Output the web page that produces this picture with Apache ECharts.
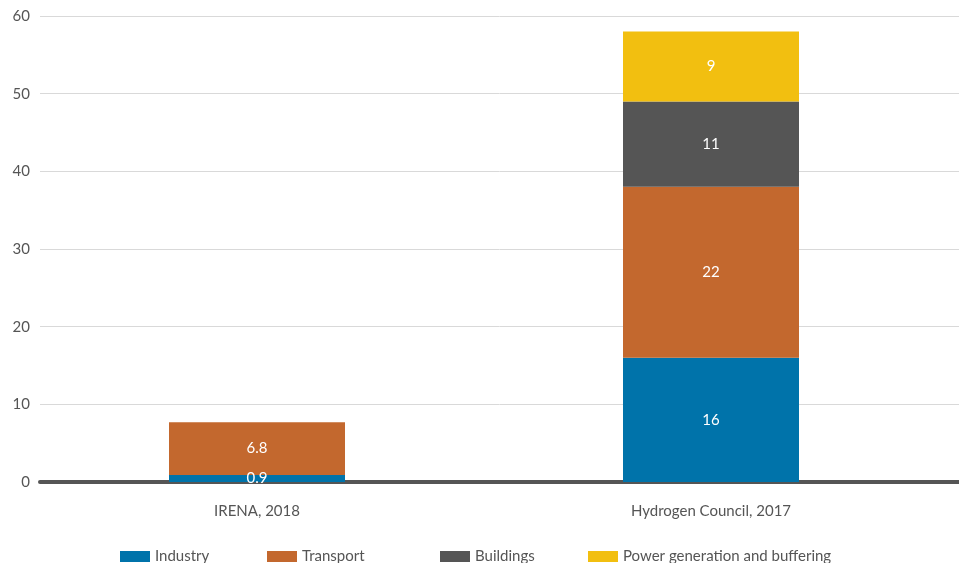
<!DOCTYPE html>
<html>
<head>
<meta charset="utf-8">
<script src="https://cdn.jsdelivr.net/npm/echarts@6/dist/echarts.min.js"></script>
<style>
  html, body { margin: 0; padding: 0; background: #fff; }
  #main { width: 959px; height: 563px; }
</style>
</head>
<body>
<div id="main"></div>
<script>
const categories = ["IRENA, 2018", "Hydrogen Council, 2017"];
const industry = [0.9, 16];
const transport = [6.8, 22];
const buildings = [null, 11];
const power = [null, 9];
const yTicks = [0, 10, 20, 30, 40, 50, 60];

const seriesNames = ["Industry", "Transport", "Buildings", "Power generation and buffering"];
const colors = ["#0073aa", "#c3682e", "#555555", "#f2bf10"];
const font = "Lato, 'Open Sans', sans-serif";

const chart = echarts.init(document.getElementById("main"));

function barSeries(name, data, color) {
  return {
    name: name,
    type: "bar",
    stack: "total",
    xAxisIndex: 1,
    yAxisIndex: 1,
    barWidth: 176,
    data: data,
    itemStyle: { color: color },
    label: {
      show: true,
      position: "inside",
      color: "#fff",
      fontSize: 15,
      fontFamily: font
    },
    z: 6
  };
}

// legend items sit at uneven spots in the picture, so one legend each
const legendLefts = [120, 267, 440, 588];
const legends = seriesNames.map((n, i) => ({
  data: [n],
  left: legendLefts[i],
  top: 549,
  padding: 0,
  itemWidth: 30,
  itemHeight: 11,
  itemGap: 6,
  icon: "rect",
  textStyle: { color: "#555", fontSize: 15, fontFamily: font },
  selectedMode: false
}));

const option = {
  animation: false,
  legend: legends,
  grid: [
    { left: 40, right: 0, top: 16, bottom: 81 },
    { left: 30, right: 21, top: 16, bottom: 81 }
  ],
  xAxis: [
    {
      gridIndex: 0,
      type: "category",
      data: categories,
      axisLine: { show: true, lineStyle: { color: "#555", width: 4 } },
      axisTick: { show: false },
      axisLabel: { show: false },
      z: 5
    },
    {
      gridIndex: 1,
      type: "category",
      data: categories,
      axisLine: { show: false },
      axisTick: { show: false },
      axisLabel: { color: "#555", fontSize: 15, fontFamily: font, margin: 22 }
    }
  ],
  yAxis: [
    {
      gridIndex: 0,
      type: "value",
      min: yTicks[0],
      max: yTicks[yTicks.length - 1],
      interval: 10,
      axisLine: { show: false },
      axisTick: { show: false },
      axisLabel: { color: "#555", fontSize: 15, fontFamily: font, margin: 10 },
      splitLine: { lineStyle: { color: "#d9d9d9", width: 1 } }
    },
    {
      gridIndex: 1,
      type: "value",
      min: 0,
      max: 60,
      interval: 10,
      show: false,
      splitLine: { show: false }
    }
  ],
  series: [
    barSeries(seriesNames[0], industry, colors[0]),
    barSeries(seriesNames[1], transport, colors[1]),
    barSeries(seriesNames[2], buildings, colors[2]),
    barSeries(seriesNames[3], power, colors[3])
  ]
};

chart.setOption(option);
</script>
</body>
</html>
